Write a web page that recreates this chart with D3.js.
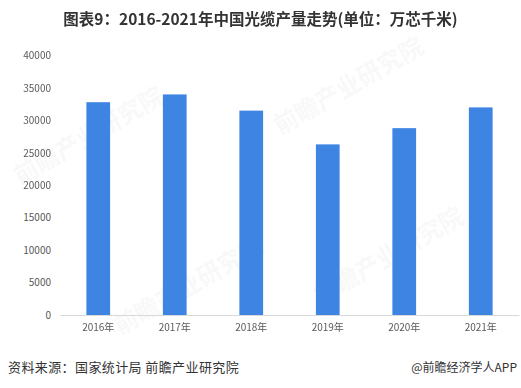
<!DOCTYPE html>
<html>
<head>
<meta charset="utf-8">
<script src="https://cdn.jsdelivr.net/npm/d3@7"></script>
<style>
  body { margin: 0; background: #fff; }
  svg { display: block; font-family: "Noto Sans CJK SC", "Microsoft YaHei", sans-serif; }
</style>
</head>
<body>
<svg width="521" height="388"></svg>
<script>
const years = ['2016年', '2017年', '2018年', '2019年', '2020年', '2021年'];
const output = [32800, 34000, 31500, 26300, 28800, 32000];
const yTicks = [0, 5000, 10000, 15000, 20000, 25000, 30000, 35000, 40000];

const svg = d3.select('svg');
const margin = { top: 55.5, right: 2, bottom: 73, left: 60 };
const width = 521, height = 388;

const x = d3.scaleBand()
  .domain(years)
  .range([margin.left, width - margin.right])
  .paddingInner(0.69)
  .paddingOuter(0.345);

const y = d3.scaleLinear()
  .domain([0, 40000])
  .range([height - margin.bottom, margin.top]);

// faint watermark
const wm = svg.append('g').attr('fill', '#000').attr('opacity', 0.03)
  .attr('font-weight', 'bold').attr('font-size', 24);
[[20, 185], [280, 135], [120, 335], [320, 305]].forEach(([cx, cy]) => {
  wm.append('text')
    .attr('transform', `translate(${cx},${cy}) rotate(-30)`)
    .text('前瞻产业研究院');
});

// title
svg.append('text')
  .attr('x', width / 2)
  .attr('y', 25)
  .attr('text-anchor', 'middle')
  .attr('font-size', 15.5)
  .attr('font-weight', 'bold')
  .attr('fill', '#333')
  .text('图表9：2016-2021年中国光缆产量走势(单位：万芯千米)');

// y axis
const yAxis = svg.append('g')
  .attr('transform', `translate(${margin.left},0)`)
  .call(d3.axisLeft(y).tickValues(yTicks).tickSize(0).tickPadding(9).tickFormat(d3.format('d')));
yAxis.select('.domain').remove();
yAxis.selectAll('text').attr('font-size', 10).attr('fill', '#595959')
  .attr('font-family', '"Noto Sans CJK SC", sans-serif');

// bars
svg.append('g')
  .selectAll('rect')
  .data(output)
  .join('rect')
  .attr('x', (d, i) => x(years[i]))
  .attr('y', (d) => y(d))
  .attr('width', x.bandwidth())
  .attr('height', (d) => y(0) - y(d))
  .attr('fill', '#3d84e3');

// x axis
const xAxis = svg.append('g')
  .attr('transform', `translate(0,${y(0)})`)
  .call(d3.axisBottom(x).tickSize(0).tickPadding(9));
xAxis.select('.domain').attr('stroke', '#d9d9d9');
xAxis.selectAll('text').attr('font-size', 10).attr('fill', '#595959')
  .attr('font-family', '"Noto Sans CJK SC", sans-serif');

// footer
svg.append('text')
  .attr('x', 8)
  .attr('y', 372)
  .attr('font-size', 13)
  .attr('letter-spacing', 0.4)
  .attr('fill', '#333')
  .text('资料来源：国家统计局 前瞻产业研究院');

svg.append('text')
  .attr('x', 517)
  .attr('y', 372)
  .attr('text-anchor', 'end')
  .attr('font-size', 12)
  .attr('fill', '#333')
  .text('@前瞻经济学人APP');
</script>
</body>
</html>
